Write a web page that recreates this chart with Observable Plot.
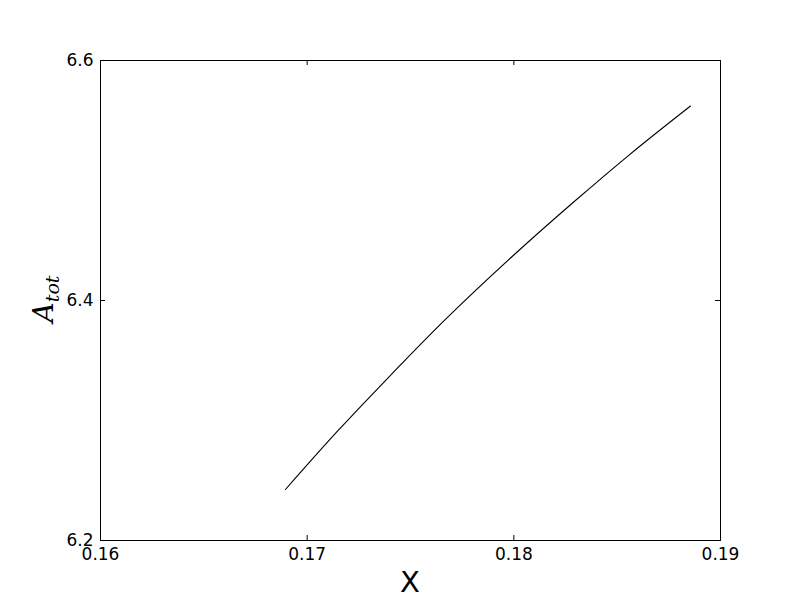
<!DOCTYPE html>
<html>
<head>
<meta charset="utf-8">
<script src="https://cdn.jsdelivr.net/npm/d3@7"></script>
<script src="https://cdn.jsdelivr.net/npm/@observablehq/plot@0.6"></script>
<style>
  html, body { margin: 0; padding: 0; background: #fff; }
  svg { font-family: "DejaVu Sans", sans-serif; }
</style>
</head>
<body>
<div id="chart"></div>
<script>
// Series values
const xValues = [0.16895, 0.1715, 0.17379, 0.17669, 0.1800, 0.18298, 0.18556, 0.18855];
const yValues = [6.2425, 6.2917, 6.3333, 6.3842, 6.4379, 6.4833, 6.5210, 6.5621];
const xTicks = [0.16, 0.17, 0.18, 0.19];
const yTicks = [6.2, 6.4, 6.6];
const xDomain = [0.16, 0.19];
const yDomain = [6.2, 6.6];

const data = xValues.map((x, i) => ({x, y: yValues[i]}));

const W = 800, H = 600;
const mL = 100, mR = 80, mT = 60, mB = 60;
const plotW = W - mL - mR, plotH = H - mT - mB;
const tickLen = 5;

const plot = Plot.plot({
  width: W,
  height: H,
  marginLeft: mL,
  marginRight: mR,
  marginTop: mT,
  marginBottom: mB,
  style: {background: "#fff", color: "#000", fontFamily: "DejaVu Sans, sans-serif", fontSize: "17px"},
  x: {domain: xDomain, label: null},
  y: {domain: yDomain, label: null},
  marks: [
    Plot.axisX(xTicks, {tickSize: 0, tickPadding: 7, fontSize: 17, tickFormat: d3.format(".2f"), label: null}),
    Plot.axisY(yTicks, {tickSize: 0, tickPadding: 7, fontSize: 17, tickFormat: d3.format(".1f"), label: null}),
    // inward ticks on all four sides
    Plot.tickX(xTicks, {x: d => d, stroke: "#000", insetTop: plotH - tickLen}),
    Plot.tickX(xTicks, {x: d => d, stroke: "#000", insetBottom: plotH - tickLen}),
    Plot.tickY(yTicks, {y: d => d, stroke: "#000", insetRight: plotW - tickLen}),
    Plot.tickY(yTicks, {y: d => d, stroke: "#000", insetLeft: plotW - tickLen}),
    Plot.line(data, {x: "x", y: "y", stroke: "#000", strokeWidth: 1.1, curve: "monotone-x"}),
    Plot.frame({stroke: "#000", strokeWidth: 1})
  ]
});

const svg = d3.select(plot);
// x label
svg.append("text")
  .attr("x", mL + plotW / 2)
  .attr("y", 592)
  .attr("text-anchor", "middle")
  .attr("font-family", "DejaVu Sans, sans-serif")
  .attr("font-size", 29)
  .attr("fill", "#000")
  .text("X");
// y label A_tot
const yl = svg.append("text")
  .attr("transform", "translate(53,299) rotate(-90)")
  .attr("text-anchor", "middle")
  .attr("font-family", "DejaVu Serif, serif")
  .attr("font-style", "italic")
  .attr("font-size", 28)
  .attr("fill", "#000");
yl.append("tspan").text("A");
yl.append("tspan").attr("font-size", 19).attr("dy", 6).text("tot");

document.getElementById("chart").appendChild(plot);
</script>
</body>
</html>
